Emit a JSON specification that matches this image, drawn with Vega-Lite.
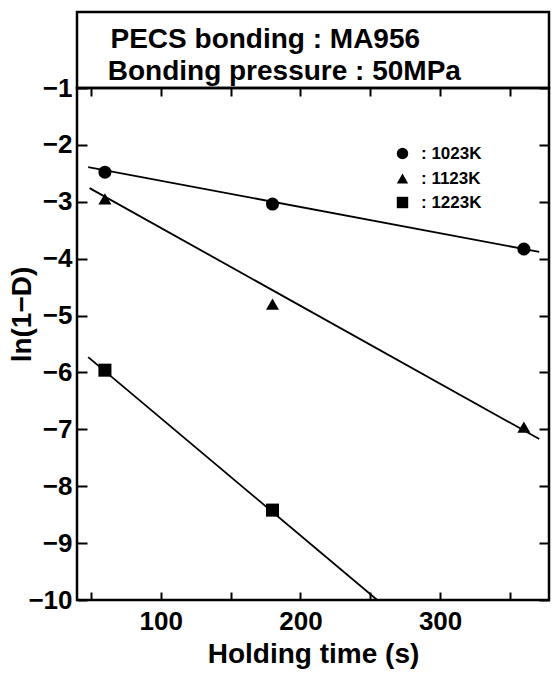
{
  "$schema": "https://vega.github.io/schema/vega-lite/v6.json",
  "padding": {"left": 6, "top": 10, "right": 4, "bottom": 0},
  "bounds": "flush",
  "config": {
    "font": "Liberation Sans",
    "view": {"stroke": "black", "strokeWidth": 2.5},
    "concat": {"spacing": 0},
    "axis": {"grid": false, "domain": false, "tickColor": "black", "tickWidth": 2, "labelColor": "black", "titleColor": "black", "labelFont": "Liberation Sans", "titleFont": "Liberation Sans", "labelFontWeight": "bold", "titleFontWeight": "bold"}
  },
  "datasets": {
    "header": [
      {"x": 64, "y": 40, "text": "PECS bonding : MA956"},
      {"x": 62, "y": 8, "text": "Bonding pressure : 50MPa"}
    ],
    "points": [
      {"temp": "1023K", "time": 60, "ln": -2.48},
      {"temp": "1023K", "time": 180, "ln": -3.04},
      {"temp": "1023K", "time": 360, "ln": -3.83},
      {"temp": "1123K", "time": 60, "ln": -2.95},
      {"temp": "1123K", "time": 180, "ln": -4.8},
      {"temp": "1123K", "time": 360, "ln": -6.96},
      {"temp": "1223K", "time": 60, "ln": -5.96},
      {"temp": "1223K", "time": 180, "ln": -8.42}
    ],
    "fits": [
      {"temp": "1023K", "time": 48, "ln": -2.39},
      {"temp": "1023K", "time": 371, "ln": -3.88},
      {"temp": "1123K", "time": 49, "ln": -2.76},
      {"temp": "1123K", "time": 371, "ln": -7.17},
      {"temp": "1223K", "time": 48, "ln": -5.73},
      {"temp": "1223K", "time": 255, "ln": -10}
    ]
  },
  "vconcat": [
    {
      "width": 472,
      "height": 76,
      "data": {"name": "header"},
      "mark": {"type": "text", "align": "left", "baseline": "alphabetic", "fontSize": 28, "fontWeight": "bold", "font": "Liberation Sans", "color": "black"},
      "encoding": {
        "x": {"field": "x", "type": "quantitative", "scale": {"domain": [40, 378], "nice": false, "zero": false}, "axis": null},
        "y": {"field": "y", "type": "quantitative", "scale": {"domain": [0, 76], "nice": false, "zero": false}, "axis": null},
        "text": {"field": "text"}
      }
    },
    {
      "width": 472,
      "height": 512,
      "layer": [
        {
          "data": {"name": "fits"},
          "mark": {"type": "line", "color": "black", "strokeWidth": 1.8, "clip": true},
          "encoding": {
            "x": {"field": "time", "type": "quantitative", "scale": {"domain": [40, 378], "nice": false, "zero": false},
                  "axis": {"orient": "top", "values": [50, 100, 150, 200, 250, 300, 350], "labels": false, "title": null, "tickSize": -8}},
            "y": {"field": "ln", "type": "quantitative", "scale": {"domain": [-10, -1], "nice": false, "zero": false},
                  "axis": {"orient": "right", "values": [-1, -2, -3, -4, -5, -6, -7, -8, -9, -10], "labels": false, "title": null, "tickSize": -10}},
            "detail": {"field": "temp"}
          }
        },
        {
          "data": {"name": "points"},
          "mark": {"type": "point", "filled": true, "color": "black", "opacity": 1, "size": 170},
          "encoding": {
            "x": {"field": "time", "type": "quantitative",
                  "axis": {"orient": "bottom", "values": [50, 100, 150, 200, 250, 300, 350], "labelExpr": "datum.value % 100 === 0 ? datum.label : ''", "labelFontSize": 26, "labelPadding": 16, "tickSize": -8, "title": "Holding time (s)", "titleFontSize": 28, "titlePadding": 6}},
            "y": {"field": "ln", "type": "quantitative",
                  "axis": {"orient": "left", "values": [-1, -2, -3, -4, -5, -6, -7, -8, -9, -10], "labelFontSize": 26, "labelPadding": 15, "tickSize": -10, "title": "ln(1−D)", "titleFontSize": 28, "titleX": -41, "titleY": 226}},
            "shape": {"field": "temp", "type": "nominal",
                      "scale": {"domain": ["1023K", "1123K", "1223K"], "range": ["circle", "triangle-up", "square"]},
                      "legend": {"title": null, "orient": "none", "legendX": 317, "legendY": 133, "padding": 0, "symbolSize": 130, "symbolFillColor": "black", "symbolStrokeColor": "black", "labelFontSize": 17, "labelFontWeight": "bold", "labelColor": "black", "labelFont": "Liberation Sans", "labelOffset": 10, "rowPadding": 6, "labelExpr": "': ' + datum.label"}}
          }
        }
      ],
      "resolve": {"axis": {"x": "independent", "y": "independent"}}
    }
  ]
}
